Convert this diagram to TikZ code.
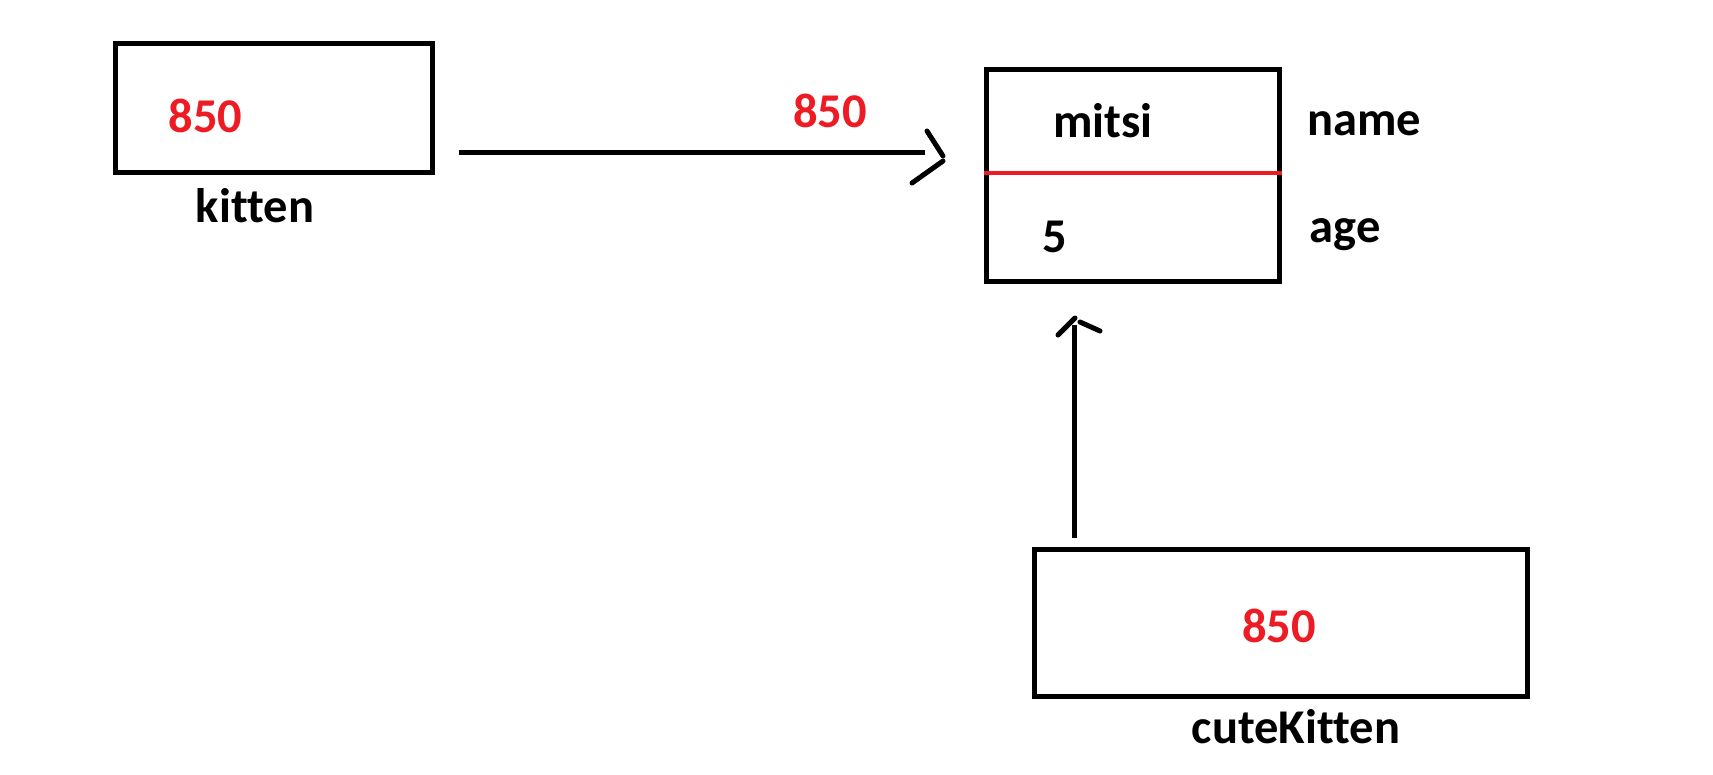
\documentclass[tikz,border=0pt]{standalone}
\usepackage{fontspec}
\setmainfont{Carlito}[Ligatures=NoCommon]
\definecolor{paintred}{HTML}{ED1C24}
\begin{document}
\begin{tikzpicture}[x=1pt,y=-1pt,
  box/.style={draw=black,line width=5pt,inner sep=0pt,minimum width=#1},
  lbl/.style={font=\fontsize{48.5}{58}\selectfont\bfseries,anchor=base,inner sep=0pt},
  redlbl/.style={lbl,text=paintred},
  conn/.style={line width=5pt},
  barb/.style={line width=5pt,line cap=round}]
\useasboundingbox[fill=white] (0,0) rectangle (1713,774);
% boxes
\node[box=317pt,minimum height=129pt] (kbox) at (273.5,107.5) {};
\node[box=293pt,minimum height=212pt] (obj) at (1132.5,175) {};
\node[box=493pt,minimum height=147pt] (cbox) at (1280.5,622.5) {};
% divider in object
\draw[paintred,line width=4pt] (obj.west |- 0,173) -- (obj.east |- 0,173);
% texts
\node[redlbl] (kval) at (205.5,132) {850};
\node[lbl] (kname) at (255,222) {kitten};
\node[redlbl] (aval) at (830,127) {850};
\node[lbl] (mitsi) at (1103,137) {mitsi};
\node[lbl] (five) at (1055,252) {5};
\node[lbl] (fname) at (1364,135) {name};
\node[lbl] (fage) at (1345,242) {age};
\node[redlbl] (cval) at (1279,642) {850};
\node[lbl] (cname) at (1296,743) {cuteKitten};
% connector kitten -> object
\coordinate (a1s) at (459,152);
\coordinate (a1e) at (925,152);
\draw[conn] (a1s) -- (a1e);
\draw[barb] (927,131) -- (943,156);
\draw[barb] (943,161) -- (912,183);
% connector cuteKitten -> object
\coordinate (a2s) at (1074,538);
\coordinate (a2e) at (1074,325);
\draw[conn] (a2s) -- (a2e);
\draw[barb] (1058,335) -- (1075,318);
\draw[barb] (1080,322) -- (1100,331);
\end{tikzpicture}
\end{document}
